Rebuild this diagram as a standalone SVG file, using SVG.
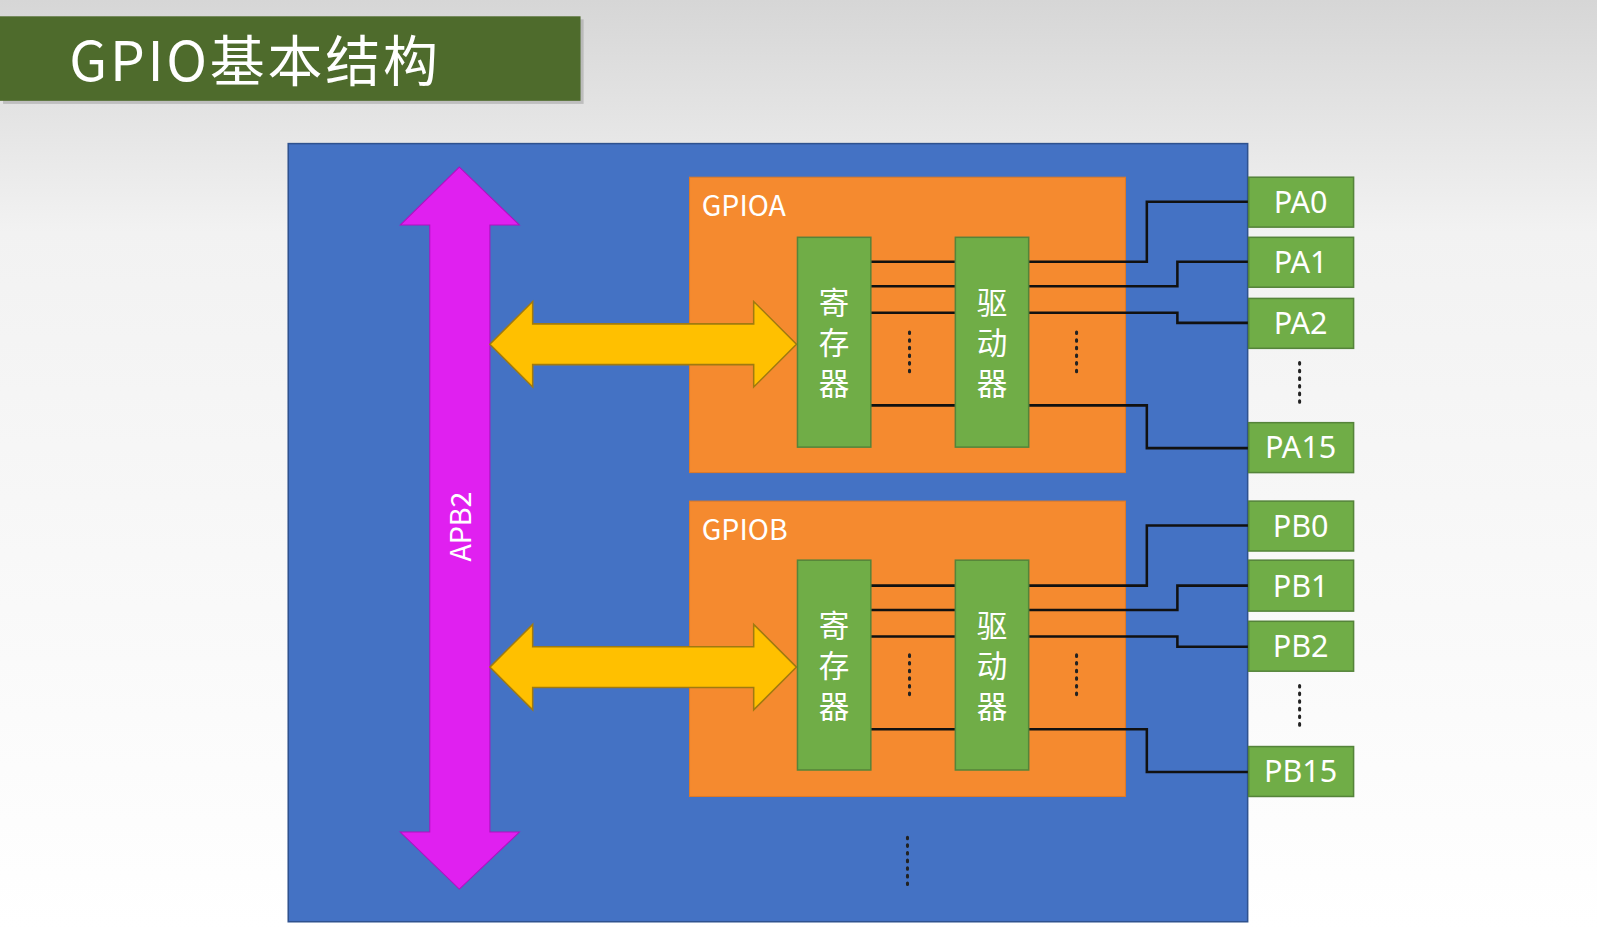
<svg xmlns="http://www.w3.org/2000/svg" width="1597" height="929" viewBox="0 0 1597 929">
<defs>
<linearGradient id="bg" x1="0" y1="0" x2="0" y2="1"><stop offset="0" stop-color="#d6d6d6"/><stop offset="0.25" stop-color="#f2f2f2"/><stop offset="1" stop-color="#ffffff"/></linearGradient>
<style>
.g{fill:#70AD47;stroke:#55843a;stroke-width:1.5}
.o{fill:#F58A2F;stroke:#e07a25;stroke-width:1}
.w{fill:#ffffff;font-family:"Noto Sans CJK SC","Noto Sans",sans-serif}
.ln{fill:none;stroke:#111;stroke-width:2.5}
.dt{stroke:#222;stroke-width:3;stroke-dasharray:1.5 6;stroke-linecap:round}
.pin{fill:#fff;font-family:"Noto Sans","Noto Sans CJK SC",sans-serif;font-size:30px;text-anchor:middle}
.cn{fill:#fff;font-family:"Noto Sans CJK SC",sans-serif;font-size:30px;text-anchor:middle}
.ya{fill:#FFC000;stroke:#a07a10;stroke-width:1.5}
</style>
</defs>
<rect width="1597" height="929" fill="url(#bg)"/>
<g transform="scale(1.0185)">
<g id="title">
<rect x="3" y="19" width="570" height="83" fill="#999" opacity="0.5"/>
<rect x="0" y="16" width="570" height="83" fill="#4E6B2C"/>
<text x="68" y="80" class="w" font-size="54" textLength="362" fill="#eee">GPIO基本结构</text>
</g>
<g id="chip"><rect x="283" y="141" width="942" height="764" fill="#4472C4" stroke="#2f528f" stroke-width="1.5"/></g>
<g id="apb2">
<polygon points="451,164 510,221 481,221 481,817 510,817 451,873 393,817 422,817 422,221 393,221" fill="#E020F0" stroke="#b010c0" stroke-width="1"/>
<text transform="translate(462,517) rotate(-90)" class="w" font-size="28" text-anchor="middle">APB2</text>
</g>
<g id="gpioa">
<rect class="o" x="677" y="174" width="428" height="290"/>
<text x="689" y="212" class="w" font-size="28">GPIOA</text>
</g>
<g id="gpiob">
<rect class="o" x="677" y="492" width="428" height="290"/>
<text x="689" y="530" class="w" font-size="28">GPIOB</text>
</g>
<g id="connectors">
<g id="linesA">
<path class="ln" d="M855,257H938M855,281H938M855,307H938M855,398H938"/>
<path class="ln" d="M1010,257H1126V198H1226M1010,281H1156V257H1226M1010,307H1156V317H1226M1010,398H1126V440H1226"/>
</g>
<g transform="translate(0,318)">
<path class="ln" d="M855,257H938M855,281H938M855,307H938M855,398H938"/>
<path class="ln" d="M1010,257H1126V198H1226M1010,281H1156V257H1226M1010,307H1156V317H1226M1010,398H1126V440H1226"/>
</g>
<polygon class="ya" points="481,338 523,296 523,318 740,318 740,296 782,338 740,380 740,358 523,358 523,380"/>
<polygon class="ya" points="481,655 523,613 523,635 740,635 740,613 782,655 740,697 740,675 523,675 523,697"/>
</g>
<g id="regA"><rect class="g" x="783" y="233" width="72" height="206"/><text class="cn" x="819" y="308">寄</text><text class="cn" x="819" y="348">存</text><text class="cn" x="819" y="388">器</text></g>
<g id="drvA"><rect class="g" x="938" y="233" width="72" height="206"/><text class="cn" x="974" y="308">驱</text><text class="cn" x="974" y="348">动</text><text class="cn" x="974" y="388">器</text></g>
<g id="regB"><rect class="g" x="783" y="550" width="72" height="206"/><text class="cn" x="819" y="625">寄</text><text class="cn" x="819" y="665">存</text><text class="cn" x="819" y="705">器</text></g>
<g id="drvB"><rect class="g" x="938" y="550" width="72" height="206"/><text class="cn" x="974" y="625">驱</text><text class="cn" x="974" y="665">动</text><text class="cn" x="974" y="705">器</text></g>
<g id="dots">
<path class="dt" d="M893,326V370M1057,326V370M1276,356V400M893,643V687M1057,643V687M1276,673V717M891,822V870"/>
</g>
<g id="PA0"><rect class="g" x="1226" y="174" width="103" height="49"/><text class="pin" x="1277" y="209">PA0</text></g>
<g id="PA1"><rect class="g" x="1226" y="233" width="103" height="49"/><text class="pin" x="1277" y="268">PA1</text></g>
<g id="PA2"><rect class="g" x="1226" y="293" width="103" height="49"/><text class="pin" x="1277" y="328">PA2</text></g>
<g id="PA15"><rect class="g" x="1226" y="415" width="103" height="49"/><text class="pin" x="1277" y="450">PA15</text></g>
<g id="PB0"><rect class="g" x="1226" y="492" width="103" height="49"/><text class="pin" x="1277" y="527">PB0</text></g>
<g id="PB1"><rect class="g" x="1226" y="550" width="103" height="50"/><text class="pin" x="1277" y="586">PB1</text></g>
<g id="PB2"><rect class="g" x="1226" y="610" width="103" height="49"/><text class="pin" x="1277" y="645">PB2</text></g>
<g id="PB15"><rect class="g" x="1226" y="733" width="103" height="49"/><text class="pin" x="1277" y="768">PB15</text></g>
</g>
</svg>
